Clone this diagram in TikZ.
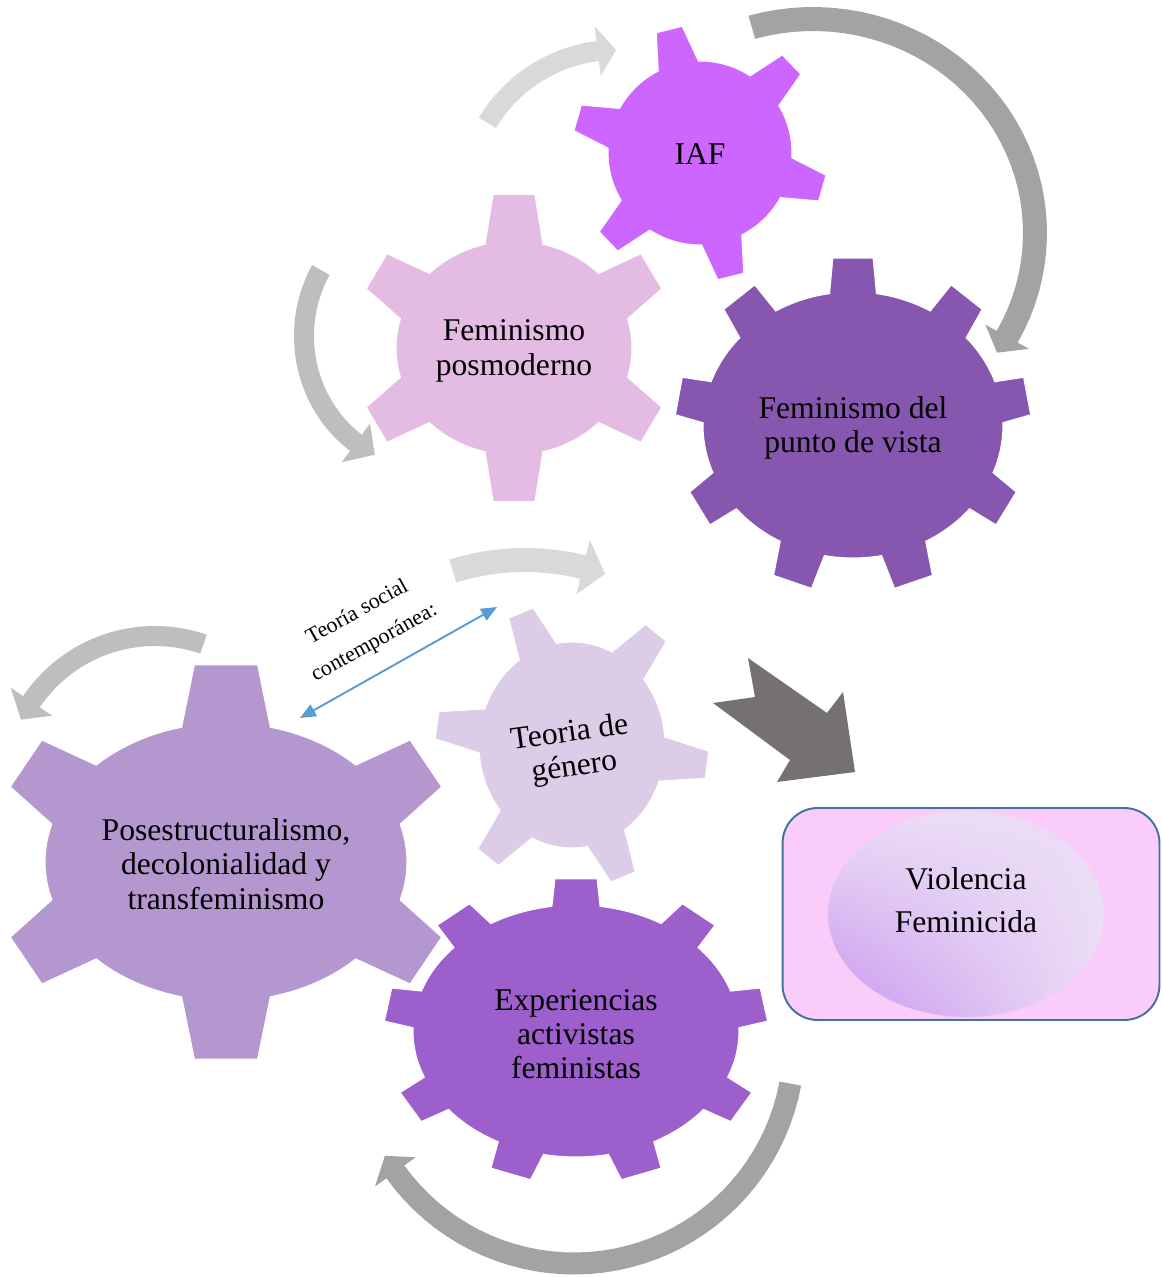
\documentclass[tikz,border=0pt]{standalone}
\usepackage{fontspec}
\setmainfont{Liberation Serif}
\usetikzlibrary{arrows.meta,shadings}
\definecolor{cIAF}{RGB}{204,102,255}
\definecolor{cPosm}{RGB}{228,187,226}
\definecolor{cPvista}{RGB}{135,87,176}
\definecolor{cTeoria}{RGB}{220,204,232}
\definecolor{cPosest}{RGB}{180,151,207}
\definecolor{cExper}{RGB}{156,95,204}
\definecolor{aDark}{RGB}{163,163,163}
\definecolor{aMid}{RGB}{190,190,190}
\definecolor{aLight}{RGB}{217,217,217}
\definecolor{aBig}{RGB}{118,113,113}
\definecolor{cBlue}{RGB}{91,155,213}
\definecolor{cBoxFill}{RGB}{250,204,250}
\definecolor{cBoxLine}{RGB}{65,113,156}
\definecolor{cEllLight}{RGB}{236,221,246}
\definecolor{cEllDark}{RGB}{200,150,238}
\tikzset{
  gtext/.style={font=\fontsize{18}{19.5}\selectfont, align=center, text=black, inner sep=0pt},
  geardraw/.style={draw=white, line width=0.6pt},
  bluearrow/.style={draw=cBlue, line width=1.1pt, {Triangle[length=9pt,width=7.5pt]}-{Triangle[length=9pt,width=7.5pt]}},
}
% gear: #1 colour, #2 cx, #3 cy, #4 rx inner, #5 ry inner, #6 rx outer, #7 ry outer, #8 teeth, #9 first tooth angle
\def\gwb{10}\def\gwt{6}
\newcommand\setgear[2]{\def\gwb{#1}\def\gwt{#2}}
\newcommand\drawgear[9]{%
  \pgfmathsetmacro\gstep{360/#8}%
  \fill[#1, geardraw] ({#2+#4*cos(#9-\gwb)},{#3+#5*sin(#9-\gwb)})
   \foreach \gi [evaluate=\gi as \ga using #9+(\gi-1)*\gstep] in {1,...,#8} {
     -- ({#2+#6*cos(\ga-\gwt)},{#3+#7*sin(\ga-\gwt)})
     -- ({#2+#6*cos(\ga+\gwt)},{#3+#7*sin(\ga+\gwt)})
     -- ({#2+#4*cos(\ga+\gwb)},{#3+#5*sin(\ga+\gwb)})
     -- plot[domain=\ga+\gwb:\ga+\gstep-\gwb, samples=14] ({#2+#4*cos(\x)},{#3+#5*sin(\x)})
   } -- cycle;
}
% curved arrow: #1 colour, #2 cx, #3 cy, #4 rx, #5 ry, #6 start angle, #7 head angle, #8 shaft half width, #9 head half width; \adl tip offset
\def\adl{5}
\newcommand\arcarrow[9]{%
  \fill[#1] plot[domain=#6:#7, samples=40] ({#2+(#4+#8)*cos(\x)},{#3+(#5+#8)*sin(\x)})
   -- ({#2+(#4+#9)*cos(#7)},{#3+(#5+#9)*sin(#7)})
   -- ({#2+#4*cos(#7+\adl)},{#3+#5*sin(#7+\adl)})
   -- ({#2+(#4-#9)*cos(#7)},{#3+(#5-#9)*sin(#7)})
   -- plot[domain=#7:#6, samples=40] ({#2+(#4-#8)*cos(\x)},{#3+(#5-#8)*sin(\x)})
   -- cycle;
}
\begin{document}
\begin{tikzpicture}[x=0.02cm, y=-0.02cm]
\useasboundingbox (0,0) rectangle (1161,1277);
\fill[white] (0,0) rectangle (1161,1277);

% curved arrows
\def\adl{5}\arcarrow{aDark}{813}{233}{222}{214}{254}{389}{12}{25}
\def\adl{7}\arcarrow{aLight}{616}{200}{150}{150}{211}{263}{10}{25}
\def\adl{-10}\arcarrow{aMid}{430}{336}{126}{132}{210}{126}{10}{24}
\def\adl{5.5}\arcarrow{aLight}{525}{800}{240}{240}{252.5}{284}{12}{28}
\def\adl{-8}\arcarrow{aMid}{155}{785}{149}{149}{289}{214}{10}{25}
\def\adl{5}\arcarrow{aDark}{574}{1043.5}{220}{220}{10.5}{144.3}{11}{25}

% big notched arrow
\fill[aBig] (748,658) -- (827,713) -- (843,692) -- (855,772) -- (777,782) -- (790,760) -- (713,703) -- (755,697) -- cycle;

% gears
\setgear{14.2}{7.8}\drawgear{cPosest}{226}{862}{181}{139}{233}{199}{6}{30}
\setgear{12.5}{5.5}\drawgear{cTeoria}{572}{745}{93}{103}{137}{143}{6}{8}
\setgear{8.5}{6.3}\drawgear{cExper}{576}{1031}{163}{126}{192}{153}{9}{270}
\setgear{14.2}{7.5}\drawgear{cPosm}{514}{348}{118}{107}{160}{155}{6}{30}
\setgear{13}{6}\drawgear{cIAF}{700}{153}{92}{92}{128}{128}{6}{16}
\setgear{9}{6.5}\drawgear{cPvista}{853}{425}{150}{133}{178}{168}{9}{270}

% gear labels
\node[gtext] (iaf) at (700,154) {IAF};
\node[gtext] (posm) at (514,351) {Feminismo\\posmoderno};
\node[gtext] (pvista) at (853,428) {Feminismo del\\punto de vista};
\node[gtext, rotate=8] (teoria) at (572,751) {Teoria de\\género};
\node[gtext] (posest) at (226,864) {Posestructuralismo,\\decolonialidad y\\transfeminismo};
\node[gtext] (exper) at (576,1034) {Experiencias\\activistas\\feministas};

% outcome box
\node[draw=cBoxLine, fill=cBoxFill, line width=1.1pt, rounded corners=20pt,
      minimum width=7.54cm, minimum height=4.24cm, inner sep=0pt] (viol) at (971,914) {};
\shade[upper left=cEllLight, upper right=cEllLight, lower right=cEllLight, lower left=cEllDark]
  (966,914) ellipse [x radius=138, y radius=103];
\node[gtext, font=\fontsize{18}{24.4}\selectfont] (violtxt) at (966,900) {Violencia\\Feminicida};

% social theory link
\node[align=center, inner sep=0pt, rotate=29, font=\fontsize{12.5}{19.8}\selectfont] (tsc) at (366,628) {Teoría social\\contemporánea:};
\coordinate (ba1) at (300,718);
\coordinate (ba2) at (497,607);
\draw[bluearrow] (ba1) -- (ba2);
\end{tikzpicture}
\end{document}
